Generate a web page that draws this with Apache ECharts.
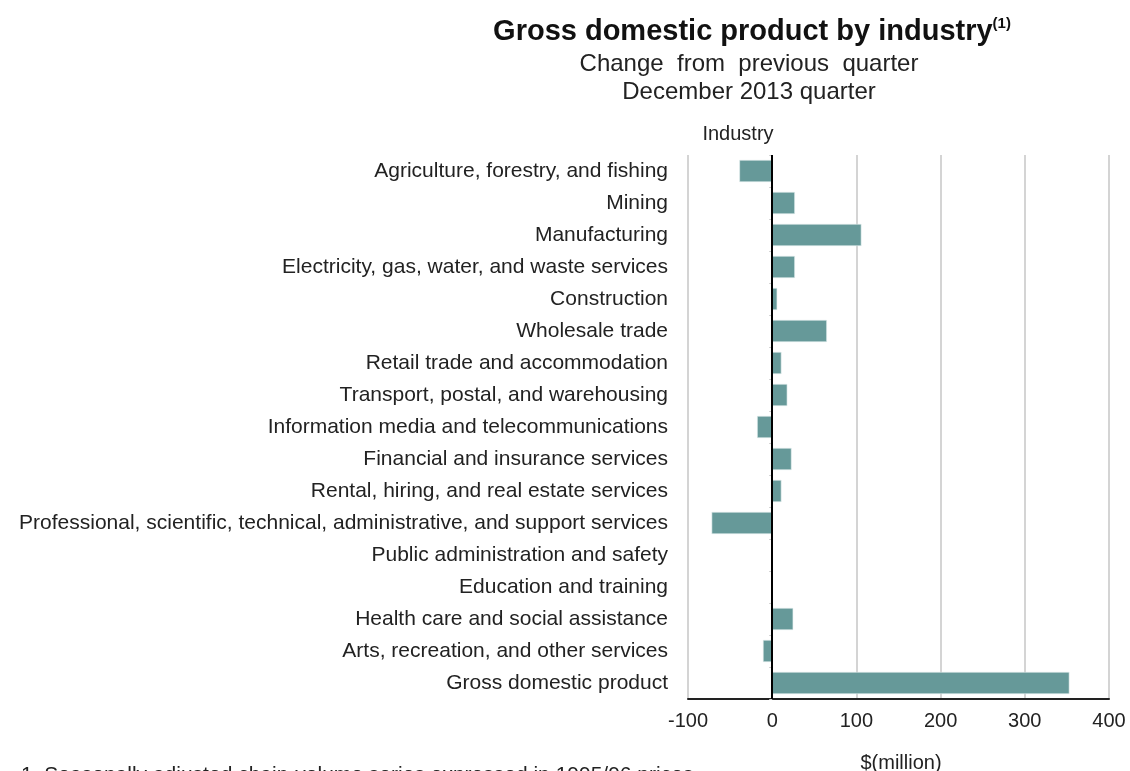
<!DOCTYPE html>
<html>
<head>
<meta charset="utf-8">
<title>Gross domestic product by industry</title>
<script src="https://cdn.jsdelivr.net/npm/echarts@6/dist/echarts.min.js"></script>
<style>
  html, body { margin: 0; padding: 0; background: #fff; }
  #main { width: 1130px; height: 771px; }
</style>
</head>
<body>
<div id="main"></div>
<script>
// industries, top to bottom
var industries = [
    'Agriculture, forestry, and fishing',
    'Mining',
    'Manufacturing',
    'Electricity, gas, water, and waste services',
    'Construction',
    'Wholesale trade',
    'Retail trade and accommodation',
    'Transport, postal, and warehousing',
    'Information media and telecommunications',
    'Financial and insurance services',
    'Rental, hiring, and real estate services',
    'Professional, scientific, technical, administrative, and support services',
    'Public administration and safety',
    'Education and training',
    'Health care and social assistance',
    'Arts, recreation, and other services',
    'Gross domestic product'
];
// change from previous quarter, $(million)
var changes = [-39, 27, 106, 27, 6, 65, 11, 18, -18, 23, 11, -72, 0, 0, 25, -11, 353];
var xTicks = [-100, 0, 100, 200, 300, 400];

var font = 'Liberation Sans, Arial, sans-serif';
var myChart = echarts.init(document.getElementById('main'));

var option = {
    backgroundColor: '#fff',
    animation: false,
    textStyle: { fontFamily: font },
    title: [
        {
            text: '{b|Gross domestic product by industry}{s|(1)}',
            left: 747, top: 11, textAlign: 'center',
            textStyle: {
                rich: {
                    b: { fontSize: 29, fontWeight: 'bold', color: '#111', fontFamily: font },
                    s: { fontSize: 15, fontWeight: 'bold', color: '#111', fontFamily: font, verticalAlign: 'top', padding: [0, 0, 16, 0] }
                }
            }
        },
        {
            text: 'Change  from  previous  quarter',
            left: 744, top: 47, textAlign: 'center',
            textStyle: { fontSize: 24, fontWeight: 'normal', color: '#222', fontFamily: font }
        },
        {
            text: 'December 2013 quarter',
            left: 744, top: 75, textAlign: 'center',
            textStyle: { fontSize: 24, fontWeight: 'normal', color: '#222', fontFamily: font }
        },
        {
            text: 'Industry',
            left: 733, top: 119, textAlign: 'center',
            textStyle: { fontSize: 20, fontWeight: 'normal', color: '#222', fontFamily: font }
        },
        {
            text: '$(million)',
            left: 896, top: 748, textAlign: 'center',
            textStyle: { fontSize: 20, fontWeight: 'normal', color: '#222', fontFamily: font }
        },
        {
            text: '1. Seasonally adjusted chain-volume series expressed in 1995/96 prices',
            left: 16, top: 760,
            textStyle: { fontSize: 21, fontWeight: 'normal', color: '#222', fontFamily: font }
        }
    ],
    grid: { left: 688, right: 21, top: 155, bottom: 72 },
    xAxis: {
        type: 'value',
        min: xTicks[0],
        max: xTicks[xTicks.length - 1],
        interval: 100,
        axisLine: { show: true, lineStyle: { color: '#222', width: 2 } },
        axisTick: { show: false },
        axisLabel: { fontSize: 20, color: '#222', margin: 12, fontFamily: font },
        splitLine: { show: true, lineStyle: { color: '#d4d4d4', width: 2 } }
    },
    yAxis: {
        type: 'category',
        inverse: true,
        data: industries,
        axisLine: { show: false },
        axisTick: { show: true, length: 3, lineStyle: { color: '#cccccc' } },
        axisLabel: { fontSize: 21, color: '#222', margin: 20, fontFamily: font },
        splitLine: { show: false }
    },
    series: [
        {
            type: 'bar',
            data: changes,
            barCategoryGap: '31%',
            itemStyle: { color: '#669999', borderColor: '#e6f0f0', borderWidth: 0.6 },
            markLine: {
                silent: true,
                symbol: 'none',
                label: { show: false },
                lineStyle: { color: '#000', width: 2, type: 'solid' },
                data: [{ xAxis: 0 }]
            }
        }
    ]
};

myChart.setOption(option);
</script>
</body>
</html>
